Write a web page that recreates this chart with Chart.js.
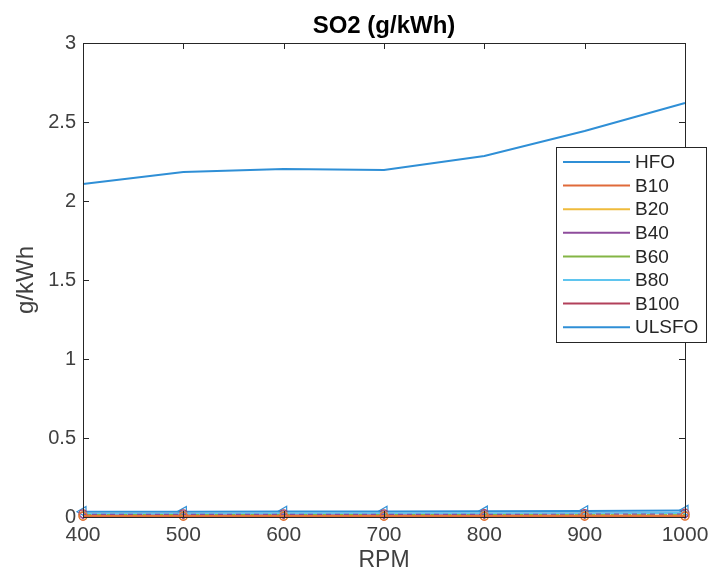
<!DOCTYPE html>
<html>
<head>
<meta charset="utf-8">
<script src="https://cdn.jsdelivr.net/npm/chart.js@4.4.1/dist/chart.umd.min.js"></script>
<style>
html,body{margin:0;padding:0;background:#fff;}
#wrap{width:710px;height:574px;position:relative;}
</style>
</head>
<body>
<div id="wrap"><canvas id="c" width="710" height="574"></canvas></div>
<script>
const rpm = [400, 500, 600, 700, 800, 900, 1000];
const seriesNames = ["HFO", "B10", "B20", "B40", "B60", "B80", "B100", "ULSFO"];
const HFO   = [2.108, 2.184, 2.203, 2.196, 2.285, 2.443, 2.620];
const B10   = [0.004, 0.004, 0.004, 0.004, 0.004, 0.004, 0.005];
const B20   = [0.007, 0.007, 0.007, 0.007, 0.007, 0.008, 0.008];
const B40   = [0.014, 0.014, 0.014, 0.014, 0.015, 0.015, 0.016];
const B60   = [0.012, 0.012, 0.012, 0.012, 0.012, 0.013, 0.013];
const B80   = [0.022, 0.022, 0.023, 0.023, 0.023, 0.024, 0.025];
const B100  = [0.020, 0.020, 0.020, 0.020, 0.021, 0.022, 0.024];
const ULSFO = [0.033, 0.034, 0.035, 0.035, 0.036, 0.038, 0.041];
const yTicks = [0, 0.5, 1, 1.5, 2, 2.5, 3];
const xTicks = [400, 500, 600, 700, 800, 900, 1000];

const colors = ["#2f8fd6", "#e06a3a", "#efbb3c", "#8e4c9c", "#84b545", "#5fc5ef", "#b2405a", "#2f8fd6"];
const allData = [HFO, B10, B20, B40, B60, B80, B100, ULSFO];
const markers = [false, 'circle', 'circle', 'rectRot', false, false, 'circle', 'triangle'];
const dashes = [[], [], [], [5,4], [8,4], [], [], []];

const datasets = allData.map((arr, i) => ({
  label: seriesNames[i],
  data: arr.map((v, j) => ({x: rpm[j], y: v})),
  borderColor: colors[i],
  backgroundColor: 'rgba(0,0,0,0)',
  borderWidth: 2,
  borderDash: dashes[i],
  pointStyle: markers[i] || 'circle',
  pointRadius: markers[i] ? (i === 7 ? 6 : 4) : 0,
  pointRotation: i === 7 ? -90 : 0,
  pointBorderColor: colors[i],
  pointBorderWidth: 1.2,
  tension: 0,
  clip: false
}));

const FONT = "'Liberation Sans', Arial, Helvetica, sans-serif";

const boxPlugin = {
  id: 'boxPlugin',
  afterDraw(chart) {
    const ctx = chart.ctx, a = chart.chartArea;
    const xs = chart.scales.x, ys = chart.scales.y;
    ctx.save();
    ctx.strokeStyle = '#262626';
    ctx.lineWidth = 1;
    ctx.strokeRect(Math.round(a.left) + 0.5, Math.round(a.top) + 0.5, Math.round(a.right - a.left), Math.round(a.bottom - a.top));
    const tl = 6;
    ctx.beginPath();
    xTicks.forEach(v => {
      const px = Math.round(xs.getPixelForValue(v)) + 0.5;
      ctx.moveTo(px, a.bottom); ctx.lineTo(px, a.bottom - tl);
      ctx.moveTo(px, a.top); ctx.lineTo(px, a.top + tl);
    });
    yTicks.forEach(v => {
      const py = Math.round(ys.getPixelForValue(v)) + 0.5;
      ctx.moveTo(a.left, py); ctx.lineTo(a.left + tl, py);
      ctx.moveTo(a.right, py); ctx.lineTo(a.right - tl, py);
    });
    ctx.stroke();
    ctx.fillStyle = '#000';
    ctx.font = "bold 24px " + FONT;
    ctx.textAlign = 'center';
    ctx.textBaseline = 'middle';
    ctx.fillText('SO2 (g/kWh)', (a.left + a.right) / 2, 26);
    const lx = 556, ly = 147, lw = 150, lh = 195;
    ctx.fillStyle = '#fff';
    ctx.fillRect(lx, ly, lw, lh);
    ctx.strokeStyle = '#262626';
    ctx.strokeRect(lx + 0.5, ly + 0.5, lw, lh);
    ctx.font = "19px " + FONT;
    ctx.textAlign = 'left';
    chart.data.datasets.forEach((ds, i) => {
      const y = ly + 15 + i * 23.6;
      ctx.strokeStyle = ds.borderColor;
      ctx.lineWidth = 2;
      ctx.setLineDash([]);
      ctx.beginPath(); ctx.moveTo(lx + 7, y); ctx.lineTo(lx + 74, y); ctx.stroke();
      ctx.fillStyle = '#262626';
      ctx.fillText(ds.label, lx + 79, y + 1);
    });
    ctx.restore();
  }
};

new Chart(document.getElementById('c'), {
  type: 'line',
  data: { datasets },
  options: {
    responsive: false,
    animation: false,
    devicePixelRatio: 1,
    layout: { padding: { top: 43, right: 25, left: 0, bottom: 0 } },
    plugins: { legend: { display: false }, title: { display: false }, tooltip: { enabled: false } },
    scales: {
      x: {
        type: 'linear', min: 400, max: 1000,
        afterBuildTicks: s => { s.ticks = xTicks.map(v => ({value: v})); },
        afterFit: s => { s.height = 57; s.paddingRight = 0; s.paddingLeft = 0; },
        grid: { display: true, drawOnChartArea: false, drawTicks: false },
        border: { display: true, color: '#262626' },
        ticks: { color: '#404040', font: { size: 21, family: FONT }, padding: 6, maxRotation: 0, callback: v => String(v) },
        title: { display: true, text: 'RPM', color: '#404040', font: { size: 23, family: FONT }, padding: { top: 0, bottom: 0 } }
      },
      y: {
        type: 'linear', min: 0, max: 3,
        afterBuildTicks: s => { s.ticks = yTicks.map(v => ({value: v})); },
        afterFit: s => { s.width = 83; s.paddingTop = 0; s.paddingBottom = 0; },
        grid: { display: true, drawOnChartArea: false, drawTicks: false },
        border: { display: true, color: '#262626' },
        ticks: { color: '#404040', font: { size: 20, family: FONT }, padding: 7, callback: v => String(v) },
        title: { display: true, text: 'g/kWh', color: '#404040', font: { size: 24, family: FONT }, padding: { top: 12, bottom: 4 } }
      }
    }
  },
  plugins: [boxPlugin]
});
</script>
</body>
</html>
